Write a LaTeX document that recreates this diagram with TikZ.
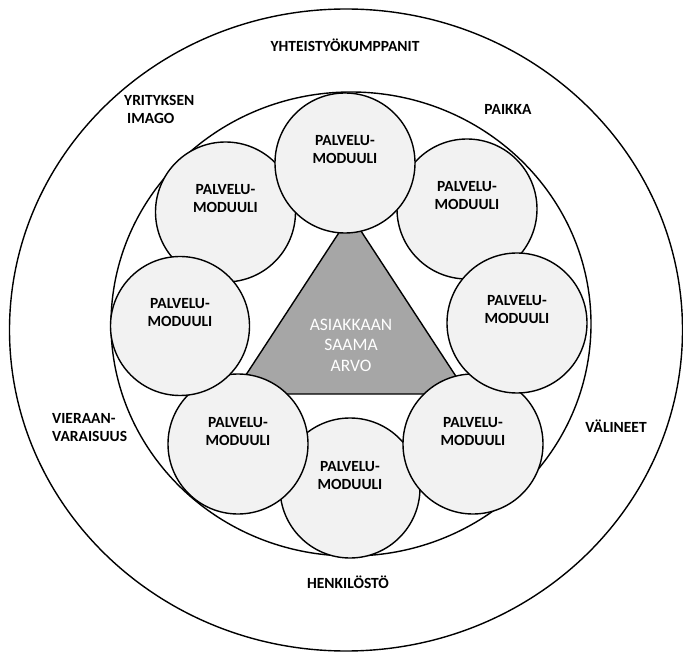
\documentclass[tikz,border=0pt]{standalone}
\usepackage{fontspec}
\setmainfont{Carlito}
\definecolor{modfill}{HTML}{F2F2F2}
\definecolor{corefill}{HTML}{A6A6A6}
\tikzset{
  ring/.style={draw=black, line width=1.4pt},
  module/.style={circle, draw=black, line width=1.4pt, fill=modfill,
    minimum size=140pt, inner sep=0pt, align=center,
    font=\fontsize{15.5}{18}\selectfont\bfseries,
    text height=10pt, text depth=8pt},
  factor/.style={align=left, inner sep=0pt,
    font=\fontsize{15.5}{18}\selectfont\bfseries,
    text height=10pt, text depth=0pt},
  core/.style={draw=black, line width=1.4pt, fill=corefill},
  coretext/.style={align=center, inner sep=0pt, text=white,
    font=\fontsize{17.5}{20.5}\selectfont}
}
\begin{document}
\begin{tikzpicture}[x=1pt, y=-1pt]
  \useasboundingbox (0,0) rectangle (683,652);

  % outer ring of surrounding factors and the inner ring of modules
  \draw[ring] (346,330) ellipse [x radius=336.5pt, y radius=321pt];
  \draw[ring] (351,324) ellipse [x radius=240pt, y radius=232pt];

  % value triangle in the middle
  \draw[core] (350.5,215) -- (233.5,394) -- (467.5,394) -- cycle;
  \node[coretext] (arvo) at (351,345) {ASIAKKAAN\\SAAMA\\ARVO};

  % service modules, back ones first
  \node[module] (m8) at (350,488) {PALVELU-\\MODUULI};
  \node[module] (m2) at (225.5,212) {PALVELU-\\MODUULI};
  \node[module] (m4) at (467,209) {PALVELU-\\MODUULI};
  \node[module] (m6) at (238,444) {PALVELU-\\MODUULI};
  \node[module] (m7) at (473,444) {PALVELU-\\MODUULI};
  \node[module] (m1) at (345,163) {PALVELU-\\MODUULI};
  \node[module, minimum size=139pt] (m3) at (180,326) {PALVELU-\\MODUULI};
  \node[module] (m5) at (517,323) {PALVELU-\\MODUULI};

  % factor labels between the rings
  \node[factor] (partners) at (345,47) {YHTEISTYÖKUMPPANIT};
  \node[factor, anchor=west] (imago) at (124,118.5) {YRITYKSEN\\\hspace*{3pt}IMAGO};
  \node[factor] (paikka) at (508,110) {PAIKKA};
  \node[factor, anchor=west] (vieraan) at (52,436) {VIERAAN-\\VARAISUUS};
  \node[factor] (valineet) at (616,427) {VÄLINEET};
  \node[factor] (henkilosto) at (348,583) {HENKILÖSTÖ};
\end{tikzpicture}
\end{document}
